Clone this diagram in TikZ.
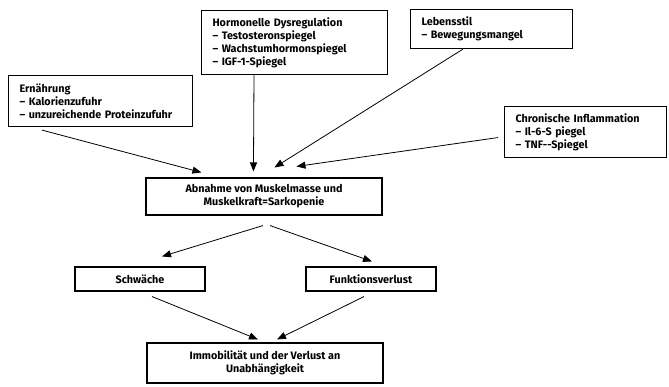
\documentclass[tikz,border=0pt]{standalone}
\usepackage{fontspec}
\setmainfont{Fira Sans}
\usetikzlibrary{arrows.meta}

\tikzset{
	cause/.style={draw, line width=1.1pt, anchor=north west, align=left, inner xsep=11pt, inner ysep=0pt,
		font=\bfseries\fontsize{10.8}{13}\selectfont},
	effect/.style={draw, line width=1.1pt, align=center, inner sep=0pt,
		font=\bfseries\fontsize{10.8}{13}\selectfont},
	arr/.style={-{Triangle[length=9pt,width=7pt]}, line width=0.8pt}
}

\begin{document}
\begin{tikzpicture}[x=1pt,y=-1pt]

		\useasboundingbox (0,0) rectangle (669,386);

		% Ursachen
		\node[cause, text width=162pt, minimum height=51pt] (ern) at (8,75) {Ernährung\\-- Kalorienzufuhr\\-- unzureichende Proteinzufuhr};
		\node[cause, text width=164pt, minimum height=64pt] (horm) at (201,10) {Hormonelle Dysregulation\\-- Testosteronspiegel\\-- Wachstumhormonspiegel\\-- IGF-1-Spiegel};
		\node[cause, text width=140pt, minimum height=39pt] (leb) at (410,9) {Lebensstil\\-- Bewegungsmangel};
		\node[cause, text width=140pt, minimum height=51pt] (chron) at (504,106) {Chronische Inflammation\\-- Il-6-S piegel\\-- TNF-{}-Spiegel};

		% Folgen
		\node[effect, minimum width=236pt, minimum height=37pt] (abn) at (264,196.5) {Abnahme von Muskelmasse und\\Muskelkraft=Sarkopenie};
		\node[effect, minimum width=130pt, minimum height=24pt] (schw) at (140,279) {Schwäche};
		\node[effect, minimum width=130pt, minimum height=24pt] (funk) at (371,279) {Funktionsverlust};
		\node[effect, minimum width=236pt, minimum height=40pt] (imm) at (265,363) {Immobilität und der Verlust an\\Unabhängigkeit};

		\draw[arr] ([xshift=34pt,yshift=-3pt]ern.south west) -- ([xshift=56pt,yshift=5pt]abn.north west);
		\draw[arr] ([xshift=53pt]horm.south west) -- ([xshift=108pt,yshift=6pt]abn.north west);
		\draw[arr] ([xshift=53pt]leb.south west) -- ([xshift=129pt,yshift=10pt]abn.north west);
		\draw[arr] ([xshift=-6pt,yshift=-5.5pt]chron.west) -- ([xshift=151pt,yshift=11pt]abn.north west);

		\draw[arr] ([xshift=-1pt,yshift=-10pt]abn.south) -- ([xshift=22pt,yshift=10pt]schw.north);
		\draw[arr] ([xshift=6pt,yshift=-10pt]abn.south) -- ([xshift=1pt,yshift=5pt]funk.north);
		\draw[arr] ([xshift=12pt,yshift=-5pt]schw.south) -- ([xshift=-7pt,yshift=3pt]imm.north);
		\draw[arr] ([xshift=-7pt,yshift=-5pt]funk.south) -- ([xshift=12pt,yshift=3pt]imm.north);

	\end{tikzpicture}
\end{document}
